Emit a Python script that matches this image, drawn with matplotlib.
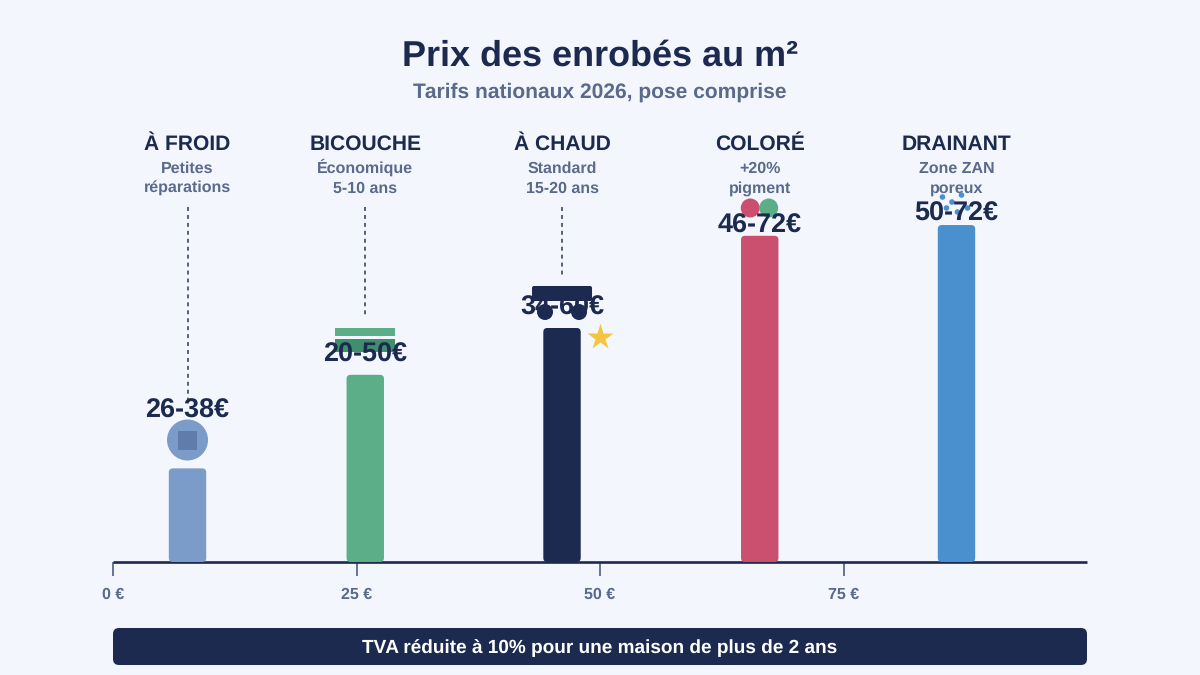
import matplotlib
matplotlib.use("Agg")
import matplotlib.pyplot as plt
from matplotlib.patches import FancyBboxPatch, Circle, Rectangle

categories = ["À FROID", "BICOUCHE", "À CHAUD", "COLORÉ", "DRAINANT"]
subtitles = ["Petites\nréparations", "Économique\n5-10 ans", "Standard\n15-20 ans", "+20%\npigment", "Zone ZAN\nporeux"]
price_labels = ["26-38€", "20-50€", "34-60€", "46-72€", "50-72€"]
bar_heights = [20, 40, 50, 69.7, 72]
bar_positions = [7.65, 25.9, 46.1, 66.4, 86.6]
bar_colors = ["#7b9cc9", "#5bae87", "#1b2a4e", "#cb4f6f", "#4a90cf"]
tick_values = [0, 25, 50, 75]
tick_labels = ["0 €", "25 €", "50 €", "75 €"]
label_gaps = [51, 13, 13, 3, 4]
leader_ends = [400, 316, 277, None, None]

NAVY = "#1b2a4e"
SLATE = "#5a6a8a"
BG = "#f4f6fd"
FONT = "Liberation Sans"

W, H = 1200, 675
X0, X1, BASE = 113, 1087, 562
PX_X = (X1 - X0) / 100
PX_Y = 4.68

plt.rcParams["text.hinting"] = "no_hinting"
plt.rcParams["text.hinting_factor"] = 1

fig = plt.figure(figsize=(12, 6.75), dpi=100, facecolor=BG)

# pixel-space layer for headers and small pictograms
deco = fig.add_axes([0, 0, 1, 1])
deco.set_xlim(0, W)
deco.set_ylim(H, 0)
deco.axis("off")

# value axis along the baseline
ax = fig.add_axes([X0 / W, (H - BASE) / H, (X1 - X0) / W, 460 / H])
ax.patch.set_alpha(0)
ax.set_xlim(0, 100)
ax.set_ylim(0, 460 / PX_Y)
for name in ("top", "left", "right"):
    ax.spines[name].set_visible(False)
ax.spines["bottom"].set_color(NAVY)
ax.spines["bottom"].set_linewidth(1.9)
ax.spines["bottom"].set_capstyle("butt")
ax.yaxis.set_visible(False)
ax.set_xticks(tick_values)
ax.set_xticklabels(tick_labels, fontsize=11.5, fontweight="bold", color=SLATE, family=FONT)
ax.tick_params(axis="x", length=10, width=1.3, color=SLATE, pad=8)

for pos, height, color in zip(bar_positions, bar_heights, bar_colors):
    ax.add_patch(FancyBboxPatch(
        (pos - 1.92, 0), 3.84, height,
        boxstyle=f"round,pad=0,rounding_size={4 / PX_X}",
        mutation_aspect=PX_X / PX_Y,
        facecolor=color, edgecolor="none", zorder=3, clip_on=False,
    ))

centers = [X0 + p * PX_X for p in bar_positions]
tops = [BASE - h * PX_Y for h in bar_heights]

deco.text(600, 65.5, "Prix des enrobés au m²", ha="center", va="baseline",
          fontsize=25.8, fontweight="bold", color=NAVY, family=FONT)
deco.text(600, 98, "Tarifs nationaux 2026, pose comprise", ha="center", va="baseline",
          fontsize=14.8, fontweight="bold", color=SLATE, family=FONT)

# column headers, leader lines and price labels
for cx, top, cat, sub, price, end, gap in zip(centers, tops, categories, subtitles,
                                              price_labels, leader_ends, label_gaps):
    deco.text(cx, 150, cat, ha="center", va="baseline", fontsize=14.85, fontweight="bold",
              color=NAVY, family=FONT, zorder=6)
    first, second = sub.split("\n")
    deco.text(cx, 173, first, ha="center", va="baseline", fontsize=11.4, fontweight="bold",
              color=SLATE, family=FONT, zorder=2)
    deco.text(cx, 193, second, ha="center", va="baseline", fontsize=11.4, fontweight="bold",
              color=SLATE, family=FONT, zorder=2)
    if end is not None:
        deco.plot([cx, cx], [207, end], color="#4a5568", lw=1.3, dashes=(2.2, 2.2), zorder=1)
    deco.text(cx, top - gap, price, ha="center", va="baseline",
              fontsize=19.4, fontweight="bold", color=NAVY, family=FONT, zorder=7)

# cold mix: disc with square
cx = centers[0]
deco.add_patch(Circle((cx, 440), 20.5, facecolor=bar_colors[0], edgecolor="none", zorder=3))
deco.add_patch(Rectangle((cx - 9.5, 431), 19, 19, facecolor="#5f7cab", edgecolor="none", zorder=4))

# two-layer strip
cx = centers[1]
deco.add_patch(Rectangle((cx - 30, 328), 60, 8, facecolor=bar_colors[1], edgecolor="none", zorder=3))
deco.add_patch(Rectangle((cx - 30, 339), 60, 13, facecolor="#3f8f6c", edgecolor="none", zorder=3))

# roller with wheels and star
cx = centers[2]
deco.add_patch(FancyBboxPatch((cx - 30, 286), 60, 15, boxstyle="round,pad=0,rounding_size=2",
                              facecolor=NAVY, edgecolor="none", zorder=3))
deco.add_patch(Circle((cx - 17, 312), 8, facecolor=NAVY, edgecolor="none", zorder=3))
deco.add_patch(Circle((cx + 17, 312), 8, facecolor=NAVY, edgecolor="none", zorder=3))
deco.plot([cx + 37.5], [337], marker="*", markersize=20, color="#f5c542", mec="none", zorder=3)

# pigment discs
cx = centers[3]
deco.add_patch(Circle((cx - 9.5, 208), 9.5, facecolor=bar_colors[3], edgecolor="none", zorder=3))
deco.add_patch(Circle((cx + 9, 208), 9.5, facecolor=bar_colors[1], edgecolor="none", zorder=3))

# porous dots
cx = centers[4]
for dx, y in [(-14, 197), (5, 195), (-4.5, 202), (-10, 208), (11, 208), (1, 212)]:
    deco.add_patch(Circle((cx + dx, y), 2.8, facecolor=bar_colors[4], edgecolor="none", zorder=3))

# footer banner
deco.add_patch(FancyBboxPatch((X0, 628), X1 - X0, 37, boxstyle="round,pad=0,rounding_size=6",
                              facecolor=NAVY, edgecolor="none"))
deco.text(600, 653, "TVA réduite à 10% pour une maison de plus de 2 ans", ha="center", va="baseline",
          fontsize=13.45, fontweight="bold", color="white", family=FONT)

fig.savefig("out.png", dpi=100, facecolor=BG)
